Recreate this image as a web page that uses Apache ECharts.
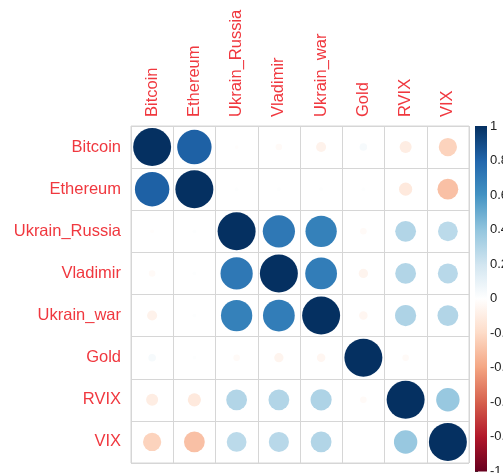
<!DOCTYPE html>
<html><head><meta charset="utf-8">
<script src="https://cdn.jsdelivr.net/npm/echarts@6/dist/echarts.min.js"></script>
<style>html,body{margin:0;padding:0;background:#fff}#c{width:503px;height:473px}</style>
</head><body><div id="c"></div>
<script>
var variables = ['Bitcoin','Ethereum','Ukrain_Russia','Vladimir','Ukrain_war','Gold','RVIX','VIX'];
var rowBitcoin      = [1, 0.82, -0.01, -0.03, -0.07, 0.04, -0.10, -0.23];
var rowEthereum     = [0.82, 1, 0.01, 0.01, 0.01, 0.01, -0.12, -0.30];
var rowUkrainRussia = [-0.01, 0.01, 1, 0.72, 0.68, -0.03, 0.30, 0.27];
var rowVladimir     = [-0.03, 0.01, 0.72, 1, 0.70, -0.06, 0.30, 0.28];
var rowUkrainWar    = [-0.07, 0.01, 0.68, 0.70, 1, -0.05, 0.31, 0.30];
var rowGold         = [0.04, 0.01, -0.03, -0.06, -0.05, 1, -0.03, 0.00];
var rowRVIX         = [-0.10, -0.12, 0.30, 0.30, 0.31, -0.03, 1, 0.38];
var rowVIX          = [-0.23, -0.30, 0.27, 0.28, 0.30, 0.00, 0.38, 1];
var colorbarTicks = [-1,-0.8,-0.6,-0.4,-0.2,0,0.2,0.4,0.6,0.8,1];
var palette = ['#67001F','#B2182B','#D6604D','#F4A582','#FDDBC7','#FFFFFF','#D1E5F0','#92C5DE','#4393C3','#2166AC','#053061'];

var rows = [rowBitcoin,rowEthereum,rowUkrainRussia,rowVladimir,rowUkrainWar,rowGold,rowRVIX,rowVIX];
var cells = [];
rows.forEach(function(r,i){ r.forEach(function(v,j){ cells.push([j,i,v]); }); });
var barData = colorbarTicks.slice(0,-1).map(function(t,k){ return [0, t, colorbarTicks[k+1], k]; });

var labelColor = '#f0383f';
var chart = echarts.init(document.getElementById('c'), null, {renderer:'canvas'});
chart.setOption({
  animation:false,
  backgroundColor:'#fff',
  grid:[
    {left:131, top:126, width:338, height:337, show:true, borderColor:'#d6d6d6', borderWidth:1, outerBoundsMode:'none', containLabel:false},
    {left:475, top:126, width:12, height:345, outerBoundsMode:'none', containLabel:false}
  ],
  xAxis:[
    {gridIndex:0, type:'category', data:variables, position:'top',
     axisLine:{show:false}, axisTick:{show:false},
     axisLabel:{rotate:-90, color:labelColor, fontSize:16.5, fontFamily:'Liberation Sans', margin:9},
     splitLine:{show:true, lineStyle:{color:'#d6d6d6', width:1}}},
    {gridIndex:1, type:'value', min:0, max:1, show:false}
  ],
  yAxis:[
    {gridIndex:0, type:'category', data:variables, inverse:true,
     axisLine:{show:false}, axisTick:{show:false},
     axisLabel:{color:labelColor, fontSize:16.5, fontFamily:'Liberation Sans', margin:10},
     splitLine:{show:true, lineStyle:{color:'#d6d6d6', width:1}}},
    {gridIndex:1, type:'value', min:-1, max:1, interval:0.2, position:'right',
     axisLine:{show:false}, splitLine:{show:false},
     axisTick:{show:true, inside:false, length:3, lineStyle:{color:'#333'}},
     axisLabel:{color:'#222', fontSize:13, fontFamily:'Liberation Sans', margin:3, hideOverlap:false,
       formatter:function(v){ return String(Math.round(v*10)/10); }}}
  ],
  visualMap:{show:false, type:'continuous', min:-1, max:1, dimension:2, seriesIndex:0, inRange:{color:palette}},
  series:[
    {type:'scatter', xAxisIndex:0, yAxisIndex:0, data:cells,
     symbolSize:function(v){ return 0.9*42.2*Math.sqrt(Math.abs(v[2])); },
     itemStyle:{opacity:1}},
    {type:'custom', xAxisIndex:1, yAxisIndex:1, data:barData,
     renderItem:function(params, api){
       var p0 = api.coord([0, api.value(1)]);
       var p1 = api.coord([1, api.value(2)]);
       var k = api.value(3);
       return {type:'rect', shape:{x:p0[0], y:p1[1], width:p1[0]-p0[0], height:p0[1]-p1[1]+0.5},
         style:{fill:new echarts.graphic.LinearGradient(0,1,0,0,[{offset:0,color:palette[k]},{offset:1,color:palette[k+1]}])}};
     }}
  ]
});
</script></body></html>
